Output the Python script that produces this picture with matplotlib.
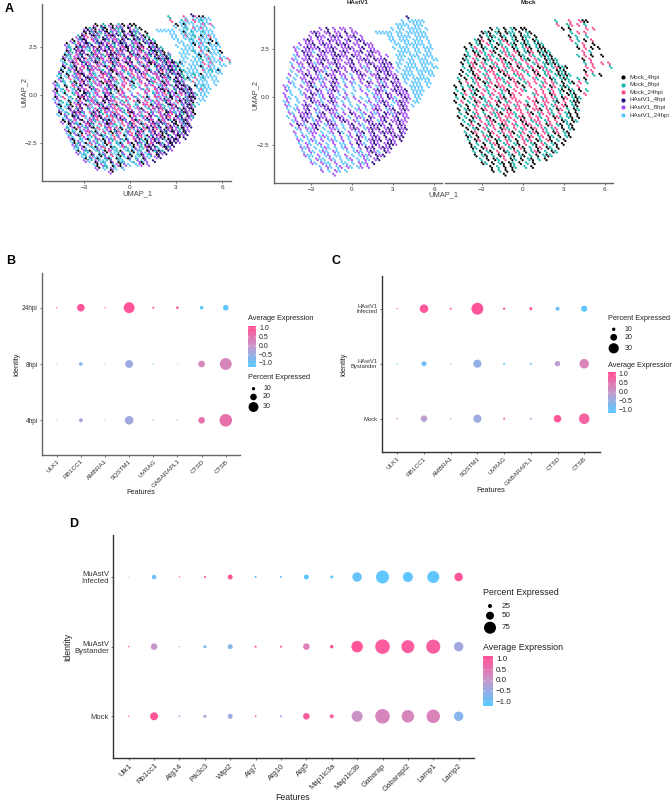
import numpy as np
import matplotlib
matplotlib.use('Agg')
import matplotlib.pyplot as plt
from matplotlib.colors import LinearSegmentedColormap

plt.rcParams['font.family'] = ['Liberation Sans', 'DejaVu Sans']

W, H = 672, 802

# umap cells, hand: one row per 0.2 of UMAP_2, one char per 0.25 of UMAP_1
# the real plot has thousands of cells, these are a coarse reading of which group shows where
umap_hastv = [
"....................................n",
"..................................c.ccccc",
".................................cccc.ccc",
"..........v.n.v.vv.v...........c.cc.cccc.c",
"........vnv.vn.vv.n.vv.....ccccc.cc.cccccc",
".......v.nvv.vnvn.vvn.v.......cc.cccc.cccc",
"......vnv.vv.nvvv.vn.vnv.......cc.ccc.ccc.c",
"....v.vvn.vnvv.nvnv.vv.nvv......cc.cccccc.c",
"...vc.vnvvn.vvnv.vvnv.vn.vv.....c.ccc.cc.ccc",
"...v.nvvc.vnvvn.vnv.vvn.vnvv.....cccc.cc.cc",
"...cv.vnv.nvv.vnnvv.nvv.vnv.v.v..ccc.ccc.ccc",
"..vc.vvn.vvnv.nvv.vn.vvnv.nvvn...cc.cc.ccc.cc",
"..c.vv.nvcvn.vvnv.vvn.v.vnv.vnvn.cc.ccc.cccc",
"..v.cv.vnv.vvc.nvv.nv.vcv.nvvnvv.c.cccc.cc.cc",
"..c.vv.v.nvvc.vnv.v.vnv.vc.vnvnv.c.ccc.ccccc",
".v.c.vnv.vc.nvv.vv.c.vnv.vvn.vnvv.cccc.cc.cc",
".c.c.vv.nvvcv.vn.cv.v.vv.c.vnvn.vn.cc.ccccc",
".vc..cvnv.cv.vnv.c.vc.v.nv.vcv.nvv.c.ccc.cc",
"vc.c.v.vnc.vv.nvc.v.c.c.vv.cvnv.vnv..cccc.c",
"vc..c.vv.nv.cvnv.c..c.v.c.vnvc.vnvvn.cccc",
"v.c..cv.nvcv.vv.c.v.c...v.cvv.nv.vnvv.ccc",
"vc.c..vnv.cv.nvc.vc.v.c.c.vcv.nvc.vnv.cc",
"cv..c.v.nvvc.vnv.c.c..v.cv.cvnv.cvnvv.cc",
"vc.c.vnv.cvnv.vc.v.c.c.v.cvv.nvc.vnv.c",
".c.cv.vn.vc.vnvv.c.v.cv.c.vnv.cvn.vnv",
".vc.vvnv.cvn.vvc.v.nv.cv.vcv.nvcvnvv",
".c.v.nvvc.nvv.cvnv.c.vvc.nv.vnv.vn.vv",
"..cv.vn.cvv.nvc.vnv.vc.vnv.cvn.vvnvv",
"..v.nvc.vnv.cvnv.c.vn.vc.vnvnv.n.vnv",
"...cv.vcvn.c.vvc.c.vnv.cvnvn.vnv.nvn",
"...v.c.cvv.c.cv.nc.v.cvn.vn.vnvnv.nv",
"...c.vc.v.cvc.c.v.cv.nvc.vnv.n.vnvn",
"....vc.cvc.v.cvc.v.c.vn.cvnvn.vnv.n",
"....c.vc.cv.c.v.cc.v.nvc.vnv.vnnv",
".....vcv.c.cvc.c.cv.c.v.nvn.vnvn",
".....c.vc.cvc.vc..c.cvc.vnvc.nv",
"......vcc.v.cv.cc.v.c.cvcv.nvn",
".......c.vcc.vc.c.cv.c.vc.vn",
"........vc.vcc.v.cc.c.vcv.n",
"..........c.vc.cv.vc.cv.v",
"...........v.c.vc.c",
"..............v",
"",
]
umap_mock = [
"",
".............................t...p..pkk",
"..............................p..tp.p.t",
"..........k.t.k.tk.kk..........k.k....p.p",
"........ktk.tk.ktt.k.tk...........t.p.p",
".......k.tkt.kt.tk.ktt.k.........k.t..t",
"......tkp.kt.tpk.tk.kt.kt.........p.t.k.p",
"....k.tk.pt.kt.ptk.tkt.tkt.........t.p..k",
"...k.tp.kt.tk.pt.kt.tpk.tkk.........k.p.k.k",
"...t.ktpt.pk.tpt.pk.tkp.ktkt.........p.t",
"...kt.pk.tpt.k.ptp.kt.pt.tktk.......t.p.k..k",
"..kt.pt.ktp.tpk.pt.ptk.pt.ktkt.......k.p",
"..k.tpk.pt.tp.ptk.pt.p.tp.tktkt.......t.p..p.p",
"..t.kp.tp.kpt.ptp.kp.tp.kpt.tpktk.....p.p....t",
"..k.tk.p.tpp.kpt.pp.tp.kp.tpt.ktk.....k.p",
".k.t.kp.tp.pt.kp.tpp.t.pk.tp.tktkt....p.t.k",
".t.k.tpk.pt.ppt.kp.tp..pt.p.kt.tkt..t.k",
".k.p.tp.ktp.p.tp.pk.tp.p.tp.pt.k.tk.p.t",
"k.t.tk.p.tp.kpp.t.p.k.p..tp.kp.tkt..p",
"t.k.ptk.pt.p.tpk.p.pt..p.p.tp.tk.kt.k.t",
"k.tp.tk.p.tp.pt.kp.p...tp.p.kp.t.ktk..p",
"t.k.tp.kt.p.tpk.pp...p.p.tp.pt.kp.tkt",
"k.p.t.kp.tp.pk.tp.pp.t.pk.pp.tk.p.tkk",
".t.k.tp.tpt.k.pp.tp.pk.p.tp.tp.pk.tk",
".k.tk.p.kp.pt.tpk.pp.t.ppk.pt.kp.t.kt",
".t.k.tp.t.ptpk.ppt.p.pk.tp.pt.p.tk.k",
".k.t.kpt.pk.tp.pp.tpk.p.pt.p.kpt.tk.k",
"..t.kt.p.tpk.ppt.p.kp.tpp.tp.p.kt.kt",
"..k.tp.k.ptp.tkp.pt.pkp.tp.kp.tk.tk",
"...k.tk.pt.p.kpt.p.tp.kp.pt.tp.k.tk",
"...t.kp.t.kp.tp.pk.tp.tpk.pt.kp.tk",
"...kt.k.ptk.p.ktp.tp.kp.tp.kt.k.tk",
"....t.kp.tp.kt.pt.k.ptp.kt.pk.t.k",
"....k.t.k.tpk.tp.tk.p.tk.pt.tk.k",
".....kt.kp.t.kp.tk.pk.t.kp.kt.k",
".....t.k.tk.p.kt.pt.k.tpk.t.kt",
"......k.tk.t.kp.tk.tk.t.k.tkt",
".......t.k.kt.p.kt.k.tk.t.k",
"........kt.k.tk.kt.k.t.k",
"..........k.t.k.kt..t.k",
"...........k.t.k.k",
"..............k",
"",
]

umap_groups = ['Mock_4hpi', 'Mock_8hpi', 'Mock_24hpi', 'HAstV1_4hpi', 'HAstV1_8hpi', 'HAstV1_24hpi']
umap_colors = ['#000000', '#14B3AC', '#F8478F', '#2A0C7C', '#A24EF3', '#5CC6FF']
umap_chars = {'k': 0, 't': 1, 'p': 2, 'n': 3, 'v': 4, 'c': 5}

# dot plots, size is percent expressed, colour is scaled average expression
b_features = ['ULK1', 'RB1CC1', 'AMBRA1', 'SQSTM1', 'UVRAG', 'GABARAPL1', 'CTSD', 'CTSB']
b_idents = ['4hpi', '8hpi', '24hpi']
b_pct = [[3, 12, 3, 26, 4, 4, 20, 38],
         [3, 11, 3, 24, 4, 3, 20, 36],
         [4, 23, 4, 33, 6, 8, 11, 17]]
b_avg = [[-0.2, -0.3, -0.3, -0.35, 0.2, -0.2, 0.6, 0.6],
         [-0.8, -0.6, -0.8, -0.4, -0.9, -0.7, 0.3, 0.3],
         [1, 1, 1, 1, 1, 1, -1, -1]]

c_idents = ['Mock', 'HAstV1\nBystander', 'HAstV1\nInfected']
c_pct = [[4, 19, 4, 24, 6, 6, 22, 31],
         [4, 15, 4, 24, 6, 6, 16, 28],
         [4, 25, 6, 35, 7, 9, 12, 18]]
c_avg = [[0.9, -0.1, -0.5, -0.4, 0.8, -0.2, 1, 0.8],
         [-1, -0.8, -0.6, -0.5, -0.9, -0.8, -0.1, 0.3],
         [1, 1, 1, 1, 1, 1, -0.8, -1]]

d_features = ['Ulk1', 'Rb1cc1', 'Atg14', 'Pik3c3', 'Wipi2', 'Atg7', 'Atg10', 'Atg5', 'Map1lc3a',
              'Map1lc3b', 'Gabarap', 'Gabarapl2', 'Lamp1', 'Lamp2']
d_idents = ['Mock', 'MuAstV\nBystander', 'MuAstV\nInfected']
d_pct = [[8, 50, 11, 19, 31, 11, 13, 41, 25, 69, 91, 78, 84, 59],
         [9, 41, 8, 19, 31, 13, 13, 41, 22, 72, 91, 81, 88, 59],
         [6, 28, 9, 13, 31, 13, 13, 31, 19, 59, 81, 63, 75, 53]]
d_avg = [[0.9, 1, -0.5, -0.3, -0.4, 1, -0.3, 0.9, 0.8, 0.1, 0.3, 0.3, 0.35, -0.6],
         [1, 0.05, -0.6, -0.7, -0.6, 1, 1, 0.4, 1, 1, 0.9, 0.9, 0.85, -0.35],
         [-1, -0.9, 0.9, 0.9, 1, -0.9, -0.7, -1, -1, -0.9, -1, -1, -1, 1]]

cmap = LinearSegmentedColormap.from_list('exp', ['#5FC6FF', '#C59BCC', '#FF5598'])
TXT = '#222222'
GREY = '#666666'


def px_axes(left, top, right, bottom):
    return fig.add_axes([left / W, 1 - bottom / H, (right - left) / W, (bottom - top) / H])


def put(x, y, s, size=5.3, ha='left', va='center', **kw):
    kw.setdefault('color', TXT)
    fig.text(x / W, 1 - y / H, s, fontsize=size, ha=ha, va=va, **kw)


def px_to_pt2(d):
    return (d * 72.0 / fig.dpi) ** 2


def read_grid(rows):
    xs, ys, cs = [], [], []
    for r, row in enumerate(rows):
        for c, ch in enumerate(row):
            if ch in umap_chars:
                # every other row is moved half a cell so the dots do not line up
                x = -5.0 + 0.25 * c + (0.125 if r % 2 else 0.0)
                y = 4.2 - 0.2 * r
                # a char stands for a small clump of cells, so it draws two dots
                xs += [x, x + 0.12]
                ys += [y, y - 0.09]
                cs += [umap_colors[umap_chars[ch]]] * 2
    return np.array(xs), np.array(ys), cs


def umap_panel(left, top, right, bottom, x0, xscale, y0, yscale, xs, ys, cs, with_y=True):
    ax = px_axes(left, top, right, bottom)
    ax.scatter(xs, ys, s=px_to_pt2(2.2), c=cs, linewidths=0)
    ax.set_xlim((left - x0) / xscale, (right - x0) / xscale)
    ax.set_ylim((y0 - bottom) / yscale, (y0 - top) / yscale)
    ax.set_xticks([-3, 0, 3, 6])
    ax.set_xticklabels(['\u22123', '0', '3', '6'])
    for s in ['top', 'right']:
        ax.spines[s].set_visible(False)
    ax.spines['bottom'].set_color(GREY)
    ax.spines['bottom'].set_linewidth(1.0)
    if with_y:
        ax.set_yticks([-2.5, 0, 2.5])
        ax.set_yticklabels(['\u22122.5', '0.0', '2.5'])
        ax.spines['left'].set_color(GREY)
        ax.spines['left'].set_linewidth(1.0)
    else:
        ax.set_yticks([])
        ax.spines['left'].set_visible(False)
    ax.tick_params(labelsize=4.6, length=1.5, width=0.5, pad=1.5, colors='#333333')
    return ax


def dot_panel(left, top, right, bottom, x0, xstep, y_first, ystep, features, idents, pct, avg, k,
              line, xtick_size, ytick_size):
    ax = px_axes(left, top, right, bottom)
    pct = np.array(pct, dtype=float)
    avg = np.array(avg, dtype=float)
    xx, yy = np.meshgrid(np.arange(len(features)), np.arange(len(idents)))
    ax.scatter(xx.ravel(), yy.ravel(), s=px_to_pt2(pct.ravel() * k), c=avg.ravel(), cmap=cmap,
               vmin=-1, vmax=1, linewidths=0)
    ax.set_xlim((left - x0) / xstep, (right - x0) / xstep)
    ax.set_ylim((y_first - bottom) / ystep, (y_first - top) / ystep)
    ax.set_xticks(range(len(features)))
    ax.set_xticklabels(features, rotation=45, ha='right', rotation_mode='anchor')
    ax.set_yticks(range(len(idents)))
    ax.set_yticklabels(idents, linespacing=1.05)
    for s in ['top', 'right']:
        ax.spines[s].set_visible(False)
    for s in ['left', 'bottom']:
        ax.spines[s].set_color(line)
        ax.spines[s].set_linewidth(1.0)
    ax.tick_params(length=1.5, width=0.5, pad=1.5, colors='#333333')
    ax.tick_params(axis='x', labelsize=xtick_size)
    ax.tick_params(axis='y', labelsize=ytick_size)
    return ax


def color_legend(left, top, right, bottom, tick_left, y_top, y_low, size):
    ax = px_axes(left, top, right, bottom)
    ax.imshow(np.linspace(1.1, -1.1, 128)[:, None], cmap=cmap, aspect='auto', vmin=-1, vmax=1)
    ax.axis('off')
    for lab, v in zip(['1.0', '0.5', '0.0', '\u22120.5', '\u22121.0'], [1, 0.5, 0, -0.5, -1]):
        y = y_low + (y_top - y_low) * (v + 1) / 2
        put(tick_left, y, lab, size=size)
        fig.add_artist(plt.Line2D([left / W, (left + (right - left) * 0.2) / W],
                                  [1 - y / H, 1 - y / H], color='white', lw=0.3))
        fig.add_artist(plt.Line2D([(right - (right - left) * 0.2) / W, right / W],
                                  [1 - y / H, 1 - y / H], color='white', lw=0.3))


def size_legend(x, ys, labels, k, lab_x, size):
    ax = px_axes(0, 0, W, H)
    ax.set_xlim(0, W)
    ax.set_ylim(H, 0)
    ax.axis('off')
    ax.patch.set_alpha(0)
    ax.scatter([x] * len(ys), ys, s=px_to_pt2(np.array(labels, dtype=float) * k), c='black', linewidths=0)
    for y, lab in zip(ys, labels):
        put(lab_x, y, str(lab), size=size)


fig = plt.figure(figsize=(W / 100, H / 100), dpi=100)

# A, umap panels
hx, hy, hc = read_grid(umap_hastv)
mx, my, mc = read_grid(umap_mock)
# mock cells sit half a cell away from the hastv cells when both are on the same axes
all_x = np.concatenate([hx, mx + 0.125])
all_y = np.concatenate([hy, my + 0.1])
all_c = np.array(hc + mc)
order = np.argsort(-all_y, kind='stable')
umap_panel(42, 4, 231, 181, 130, 15.33, 95, 19.2, all_x[order], all_y[order], list(all_c[order]))
umap_panel(274, 6, 441.5, 182.5, 352, 13.67, 97, 19.2, hx, hy, hc)
umap_panel(444.5, 6, 612.5, 182.5, 522.7, 13.67, 97, 19.2, mx, my, mc, with_y=False)

put(137, 194, 'UMAP_1', size=5.4, ha='center', color='#444444')
put(443, 195, 'UMAP_1', size=5.4, ha='center', color='#444444')
put(24, 92, 'UMAP_2', size=5.4, ha='center', rotation=90, color='#444444')
put(255, 95, 'UMAP_2', size=5.4, ha='center', rotation=90, color='#444444')
put(358, 2.5, 'HAstV1', size=4.4, ha='center', fontweight='bold')
put(528, 2.5, 'Mock', size=4.4, ha='center', fontweight='bold')

leg_ax = px_axes(0, 0, W, H)
leg_ax.set_xlim(0, W)
leg_ax.set_ylim(H, 0)
leg_ax.axis('off')
leg_ax.patch.set_alpha(0)
for i, (name, col) in enumerate(zip(umap_groups, umap_colors)):
    y = 77 + 7.6 * i
    leg_ax.scatter([623], [y], s=px_to_pt2(4.2), color=col, linewidths=0)
    put(630, y, name, size=4.5, color='#333333')

# B
dot_panel(42, 273, 240, 454.5, 56.7, 24.15, 420.3, 56.3, b_features, b_idents, b_pct, b_avg, 0.33, GREY, 4.6, 4.7)
put(141, 493, 'Features', ha='center')
put(17, 364, 'Identity', ha='center', rotation=90)
put(248, 318.7, 'Average Expression')
color_legend(248, 325.7, 256, 366.7, 259, 328.3, 364, 5.0)
put(248, 377.7, 'Percent Expressed')
size_legend(253.5, [388.7, 397, 407], [10, 20, 30], 0.33, 263, 5.0)

# C
dot_panel(381.7, 275.7, 600, 451.7, 397.3, 26.7, 418.7, 55, b_features, c_idents, c_pct, c_avg, 0.34, '#333333', 4.6, 4.2)
put(490.7, 490, 'Features', ha='center')
put(344, 364, 'Identity', ha='center', rotation=90)
put(607.7, 318, 'Percent Expressed')
size_legend(613.7, [329.3, 337.3, 348.3], [10, 20, 30], 0.34, 624.3, 5.0)
put(607.7, 365.3, 'Average Expression')
color_legend(607.7, 372, 615.5, 412.7, 618.3, 375, 410.3, 5.0)

# D
dot_panel(113.3, 535, 474, 758, 128.7, 25.38, 716.3, 69.65, d_features, d_idents, d_pct, d_avg, 0.16, '#333333', 5.6, 5.5)
put(293, 798, 'Features', size=6.3, ha='center')
put(67.3, 646.7, 'Identity', size=6.3, ha='center', rotation=90)
put(483.3, 592.3, 'Percent Expressed', size=6.4)
size_legend(490, [606, 615.7, 627.7], [25, 50, 75], 0.16, 501.7, 5.8)
put(483.3, 647.7, 'Average Expression', size=6.4)
color_legend(483.3, 656.3, 493, 705.7, 496, 659.7, 702, 5.8)

# panel letters
for x, y, s in [(5, 9, 'A'), (6, 261, 'B'), (332, 261, 'C'), (69, 524, 'D')]:
    put(x, y, s, size=9, fontweight='bold', color='black')

fig.savefig('out.png', dpi=100)
